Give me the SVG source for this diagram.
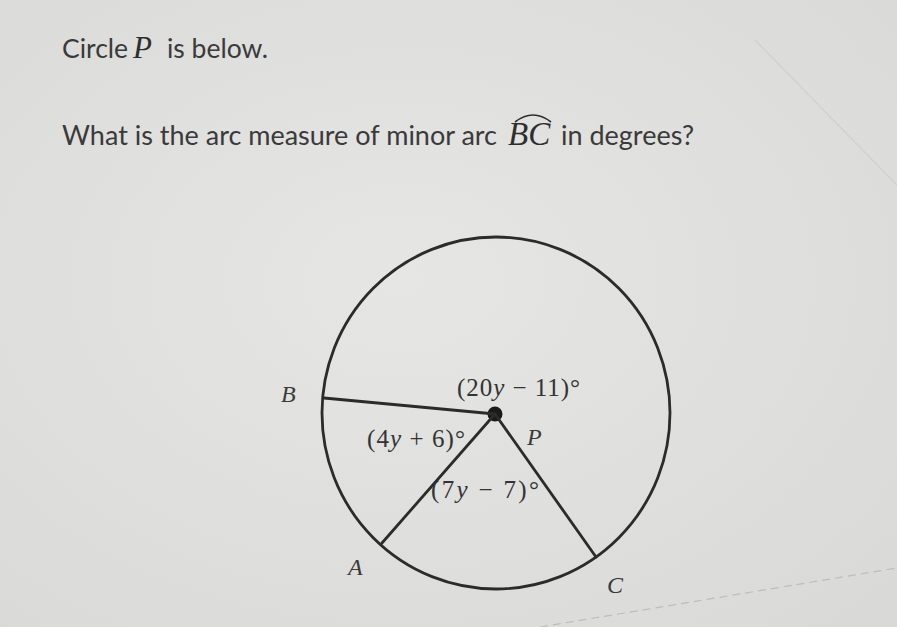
<svg xmlns="http://www.w3.org/2000/svg" width="897" height="627" viewBox="0 0 897 627">
<defs>
<radialGradient id="bg" cx="0.45" cy="0.45" r="0.75">
<stop offset="0" stop-color="#e6e6e4"/>
<stop offset="1" stop-color="#d9d9d7"/>
</radialGradient>
<style>
.q{font-family:Lato,"Open Sans","Liberation Sans",sans-serif;font-size:27px;fill:#3a3a3a}
.q1{font-size:26.5px}
.qm{font-family:"Liberation Serif","DejaVu Serif",serif;font-style:italic;font-size:31px;fill:#2e2e2e}
.bc{font-size:33px}
.mi{font-family:"Liberation Serif","DejaVu Serif",serif;font-style:italic}
.lbl{font-family:"Liberation Serif","DejaVu Serif",serif;font-size:25px;fill:#333333}
.pt{font-family:"Liberation Serif","DejaVu Serif",serif;font-style:italic;font-size:24px;fill:#3a3a3a}
.line{stroke:#2b2b2b;stroke-width:2.8;fill:none;stroke-linecap:round}
</style>
</defs>
<rect width="897" height="627" fill="url(#bg)"/>
<line x1="755" y1="40" x2="897" y2="185" stroke="#cfcfcd" stroke-width="1.2"/>
<line x1="540" y1="627" x2="897" y2="568" stroke="#bdbdbb" stroke-width="1.2" stroke-dasharray="8 5"/>

<g id="question">
<text class="q q1" x="62" y="58">Circle</text>
<text class="qm" x="133" y="58">P</text>
<text class="q q1" x="167" y="58">is below.</text>
<text class="q" x="62" y="145">What is the arc measure of minor arc</text>
<text class="qm bc" x="508" y="145">BC</text>
<path d="M515 122 Q533 108 551 122" fill="none" stroke="#2e2e2e" stroke-width="1.6"/>
<text class="q" x="561" y="145">in degrees?</text>
</g>

<g id="circle-P">
<ellipse class="line" cx="496" cy="413" rx="174" ry="176"/>
<circle cx="495" cy="414" r="7.5" fill="#1a1a1a"/>
</g>

<g id="connectors">
<line class="line" x1="495" y1="414" x2="324" y2="398"/>
<line class="line" x1="495" y1="414" x2="382" y2="543"/>
<line class="line" x1="495" y1="414" x2="596" y2="557"/>
</g>

<g id="labels">
<text class="pt" x="281" y="402">B</text>
<text class="pt" x="348" y="575">A</text>
<text class="pt" x="607" y="593">C</text>
<text class="pt" x="527" y="445">P</text>
<text class="lbl" x="457" y="396" textLength="123" lengthAdjust="spacing">(20<tspan class="mi">y</tspan> − 11)°</text>
<text class="lbl" x="367" y="447" textLength="98" lengthAdjust="spacing">(4<tspan class="mi">y</tspan> + 6)°</text>
<text class="lbl" x="431" y="498" textLength="108" lengthAdjust="spacing">(7<tspan class="mi">y</tspan> − 7)°</text>
</g>
</svg>
